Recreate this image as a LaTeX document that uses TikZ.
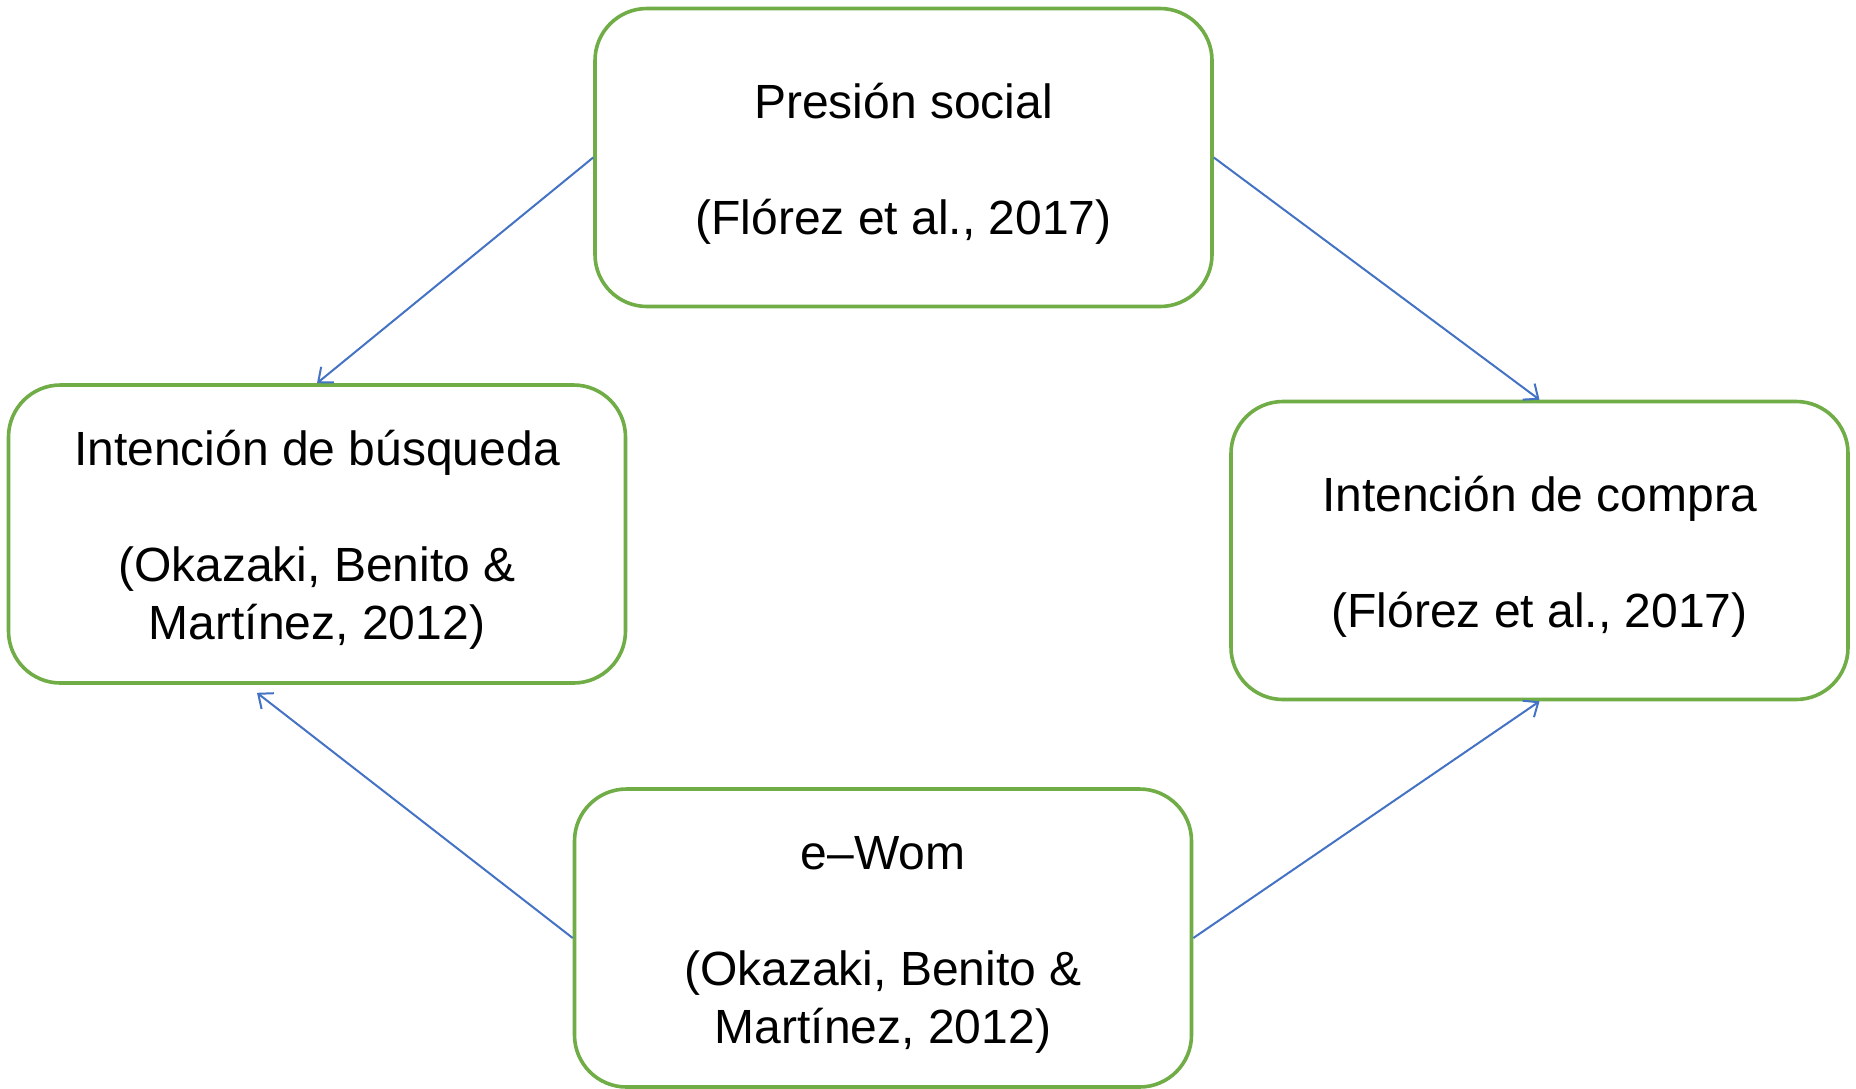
\documentclass[tikz,border=0pt]{standalone}
\usepackage{fontspec}
\setmainfont{Liberation Sans}
\usetikzlibrary{arrows.meta,calc}
\definecolor{boxgreen}{HTML}{70AD47}
\definecolor{arrowblue}{HTML}{4472C4}
\newcommand{\lowerstrut}{\rule{0pt}{23.5pt}}
\begin{document}
\begin{tikzpicture}[x=0.5pt,y=-0.5pt,
  concept/.style={draw=boxgreen, line width=1.8pt, rounded corners=26pt,
    minimum width=308.5pt, minimum height=149pt, inner sep=0pt,
    align=center, font=\fontsize{24pt}{29pt}\selectfont, fill=white},
  link/.style={draw=arrowblue, line width=1pt,
    -{Straight Barb[length=6pt,width=10pt,line width=1pt]}}]
\useasboundingbox (0,0) rectangle (1856,1088);
\fill[white] (0,0) rectangle (1856,1088);
\node[concept] (P) at (903.5,157.5) {\lowerstrut Presión social\\[29pt](Flórez et al., 2017)};
\node[concept] (B) at (317,534) {\lowerstrut Intención de búsqueda\\[29pt](Okazaki, Benito \&\\Martínez, 2012)};
\node[concept] (C) at (1539.5,550.5) {\lowerstrut Intención de compra\\[29pt](Flórez et al., 2017)};
\node[concept] (E) at (883,938) {\lowerstrut e–Wom\\[29pt](Okazaki, Benito \&\\Martínez, 2012)};
\coordinate (bend) at ($(B.south)+(-60,8)$);
\draw[link] (P.west) -- (B.north);
\draw[link] (P.east) -- (C.north);
\draw[link] (E.west) -- (bend);
\draw[link] (E.east) -- (C.south);
\end{tikzpicture}
\end{document}
